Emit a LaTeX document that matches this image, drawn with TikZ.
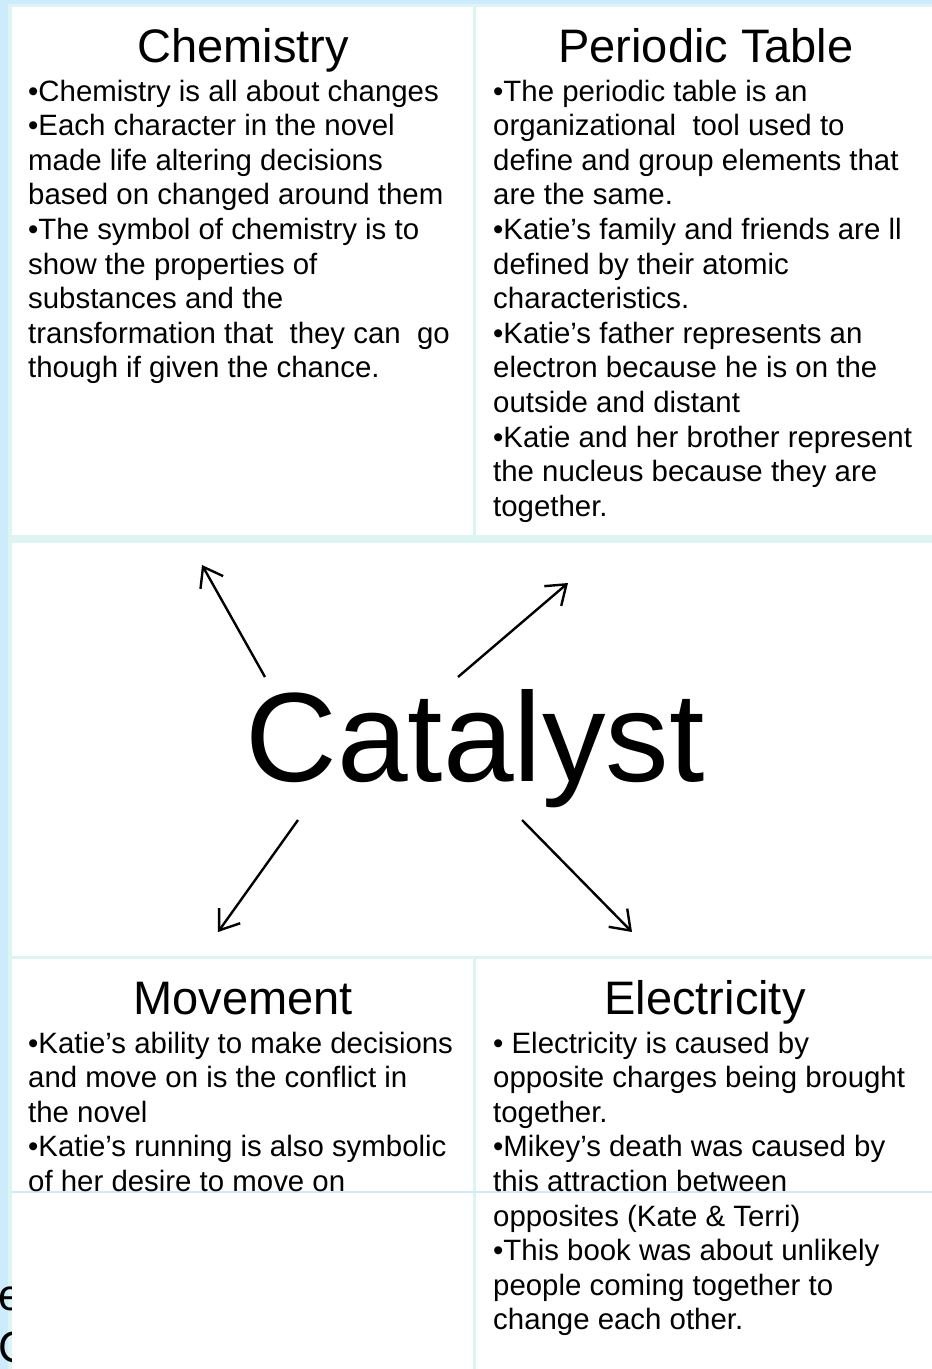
\documentclass[tikz,border=0pt]{standalone}
\usepackage{fontspec}
\setmainfont{Liberation Sans}
\usetikzlibrary{arrows.meta}
\definecolor{paneblue}{HTML}{CCEBFC}
\definecolor{gridcyan}{HTML}{DDF5F2}
\tikzset{
  heading/.style={font=\fontsize{47}{56}\selectfont, anchor=base, inner sep=0pt},
  % anchor at the baseline of the last line
  bodytext/.style={font=\fontsize{29.4}{34.6}\selectfont, align=left, anchor=base west, inner sep=0pt},
  pointer/.style={line width=2.4pt, -{Straight Barb[length=18pt,width=26pt]}},
}
\begin{document}
\begin{tikzpicture}[x=1pt,y=-1pt]
\useasboundingbox (0,0) rectangle (932,1369);
% slide frame
\fill [paneblue] (0,0) rectangle (932,1369);
\fill [gridcyan] (8,4) rectangle (932,1369);
\node [font=\fontsize{44}{52}\selectfont, align=left, anchor=base west, inner sep=0pt] (edgetext) at (-2,1362) {e\\C};
\fill [white] (12,7) rectangle (932,1369);
% table rules
\draw [gridcyan, line width=3pt] (474.5,7) -- (474.5,543);
\draw [gridcyan, line width=8pt] (12,539) -- (932,539);
\draw [gridcyan, line width=3.5pt] (12,957.5) -- (932,957.5);
\draw [gridcyan, line width=3pt] (474.5,956) -- (474.5,1369);
\draw [paneblue, line width=1.2pt] (12,1192) -- (932,1192);
% headings
\node [heading] (chem) at (243,62) {Chemistry};
\node [heading] (ptable) at (706,62) {Periodic Table};
\node [heading] (move) at (243,1014) {Movement};
\node [heading] (elec) at (705,1014) {Electricity};
% cell texts
\node [bodytext] (chemtext) at (28,377.8) {%
•Chemistry is all about changes\\
•Each character in the novel\\
made life altering decisions\\
based on changed around them\\
•The symbol of chemistry is to\\
show the properties of\\
substances and the\\
transformation that\ \ they can\ \ go\\
though if given the chance.};
\node [bodytext] (ptabletext) at (493,516.2) {%
•The periodic table is an\\
organizational\ \ tool used to\\
define and group elements that\\
are the same.\\
•Katie’s family and friends are ll\\
defined by their atomic\\
characteristics.\\
•Katie’s father represents an\\
electron because he is on the\\
outside and distant\\
•Katie and her brother represent\\
the nucleus because they are\\
together.};
\node [bodytext] (movetext) at (28,1191.4) {%
•Katie’s ability to make decisions\\
and move on is the conflict in\\
the novel\\
•Katie’s running is also symbolic\\
of her desire to move on};
\node [bodytext] (electext) at (493,1329.8) {%
• Electricity is caused by\\
opposite charges being brought\\
together.\\
•Mikey’s death was caused by\\
this attraction between\\
opposites (Kate \& Terri)\\
•This book was about unlikely\\
people coming together to\\
change each other.};
% centre word and its arrows
\node [font=\fontsize{127}{140}\selectfont, anchor=base, inner sep=0pt] (cat) at (475,781) {Catalyst};
\coordinate (chemfrom) at (265,677);
\coordinate (chemtip) at (202,565);
\coordinate (ptablefrom) at (458,677);
\coordinate (ptabletip) at (568,583);
\coordinate (movefrom) at (298,820);
\coordinate (movetip) at (218,932);
\coordinate (elecfrom) at (522,820);
\coordinate (electip) at (632,932);
\draw [pointer] (chemfrom) -- (chemtip);
\draw [pointer] (ptablefrom) -- (ptabletip);
\draw [pointer] (movefrom) -- (movetip);
\draw [pointer] (elecfrom) -- (electip);
\end{tikzpicture}
\end{document}
